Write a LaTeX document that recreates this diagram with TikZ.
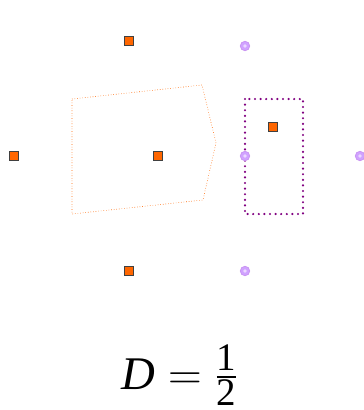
\documentclass[tikz,border=0pt]{standalone}
\usepackage{amsmath}
\usepackage{fontspec}
\setmainfont{Liberation Serif}
\usepackage{xcolor}
\definecolor{siteorange}{RGB}{255,102,0}
\definecolor{ghostviolet}{RGB}{208,162,255}
\definecolor{boxpurple}{RGB}{128,0,128}

\begin{document}
\begin{tikzpicture}[x=1pt,y=-1pt,
  site/.style={rectangle,fill=siteorange,draw=black!75,line width=0.9pt,
    minimum size=9pt,inner sep=0pt},
  ghost/.style={circle,fill=ghostviolet,draw=ghostviolet!90!violet,line width=0.7pt,
    minimum size=9.5pt,inner sep=0pt},
  cell/.style={siteorange,dotted,line width=0.6pt},
  win/.style={boxpurple,line width=2.4pt,dash pattern=on 0pt off 5.6pt,line cap=round}]
  \useasboundingbox (0,0) rectangle (364,410);
  % orange cell around the centre site
  \draw[cell] (72,99) -- (202,85) -- (216,143) -- (203,200) -- (72,214) -- cycle;
  % purple window
  \draw[win] (245,99) rectangle (303,214);
  % ghost sites
  \node[ghost] (g1) at (245,46) {};
  \node[ghost] (g2) at (245,156) {};
  \node[ghost] (g3) at (360,156) {};
  \node[ghost] (g4) at (245,271) {};
  \foreach \g in {g1,g2,g3,g4}
    \fill[white,opacity=0.6] (\g) circle (1.8pt);
  % sites
  \node[site] (top) at (129,41) {};
  \node[site] (left) at (14,156) {};
  \node[site] (mid) at (158,156) {};
  \node[site] (bot) at (129,271) {};
  \node[site] (win) at (273,127) {};
  % caption
  \node[anchor=base,font=\Huge,scale=1.88,inner sep=0pt] (cap) at (180,389)
    {$\text{\itshape D}=\frac{\text{1}}{\text{2}}$};
\end{tikzpicture}
\end{document}
